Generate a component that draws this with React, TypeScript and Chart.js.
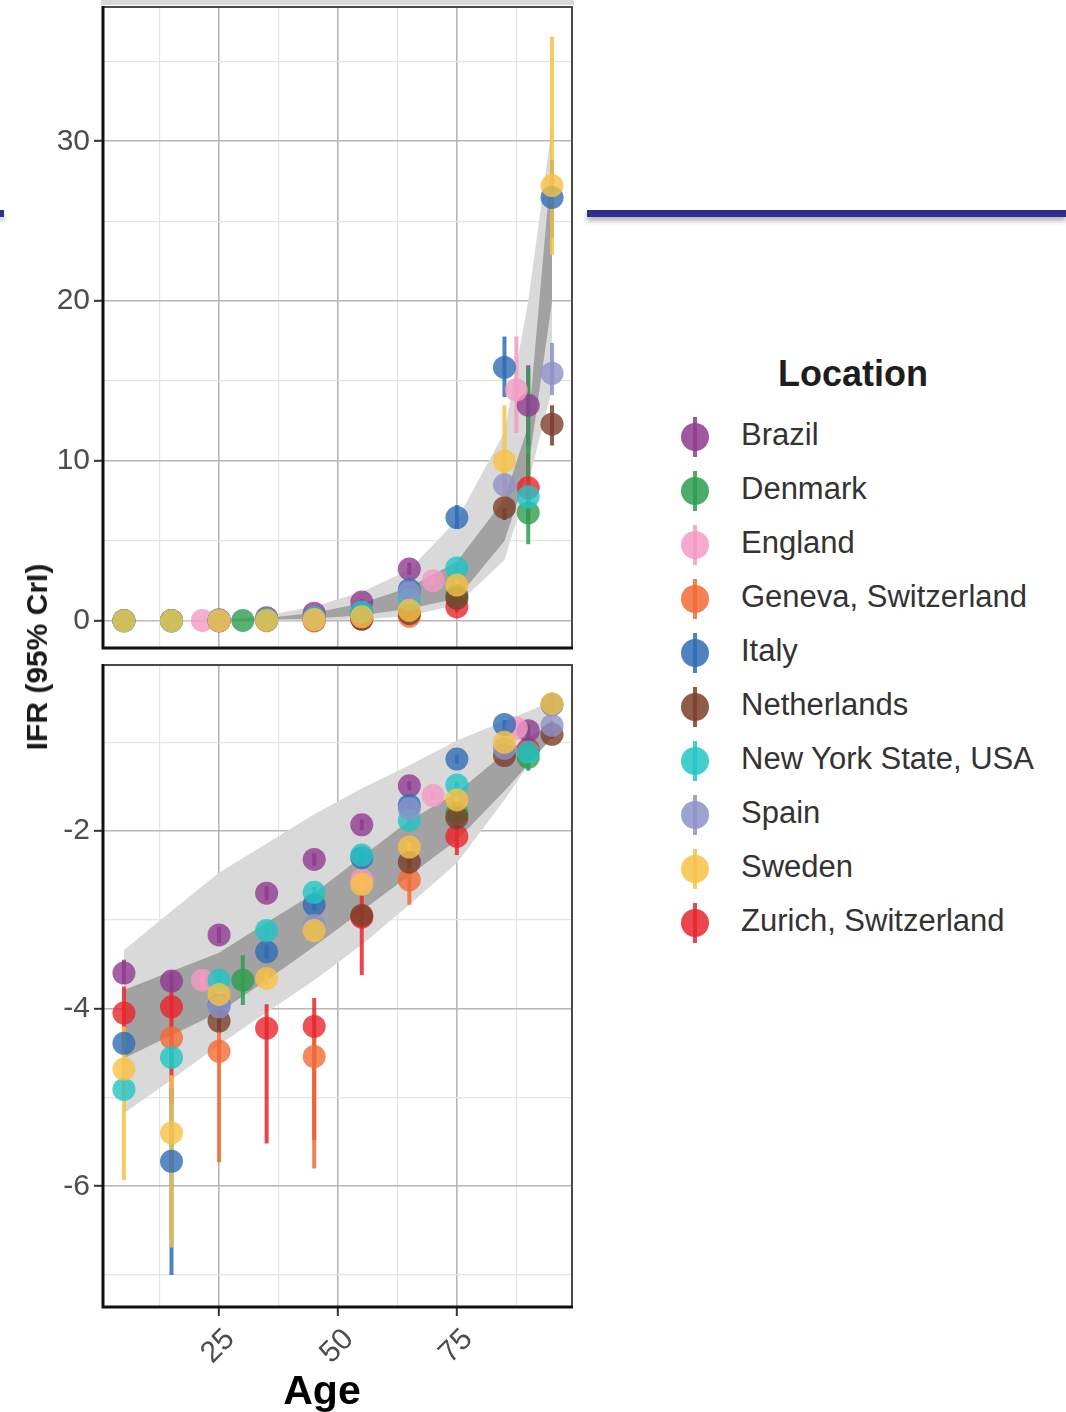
import React, { useEffect, useRef } from 'react';
import { Chart, registerables } from 'chart.js';

Chart.register(...registerables);

const FONT = '"Liberation Sans", Arial, Helvetica, sans-serif';

// ---- axes -------------------------------------------------------------
const AGE_MIN = 0.6;
const AGE_MAX = 99.2;
const AGE_GRID = [12.5, 25, 37.5, 50, 62.5, 75, 87.5];
const AGE_LABELS = [25, 50, 75];

const IFR_MIN = -1.7;
const IFR_MAX = 38.4;
const IFR_GRID = [0, 5, 10, 15, 20, 25, 30, 35];
const IFR_LABELS = [0, 10, 20, 30];

const LOG_MIN = -7.36;
const LOG_MAX = -0.13;
const LOG_GRID = [-7, -6, -5, -4, -3, -2, -1];
const LOG_LABELS = [-6, -4, -2];

// ---- locations --------------------------------------------------------
const LOCATIONS = [
  'Brazil',
  'Denmark',
  'England',
  'Geneva, Switzerland',
  'Italy',
  'Netherlands',
  'New York State, USA',
  'Spain',
  'Sweden',
  'Zurich, Switzerland',
];
const LOCATION_COLORS = [
  '#8E3B8E',
  '#2E9E4F',
  '#F49AC4',
  '#F26A35',
  '#2F6DB5',
  '#7B3F2A',
  '#23C4C4',
  '#8D92C8',
  '#F7C245',
  '#E8262B',
];

// Estimates per age group: [age, log10 IFR, lower 95% CrI, upper 95% CrI]
const brazil = [
  [5, -3.6, -3.72, -3.45],
  [15, -3.69, -3.8, -3.58],
  [25, -3.17, -3.26, -3.08],
  [35, -2.7, -2.78, -2.62],
  [45, -2.32, -2.39, -2.25],
  [55, -1.93, -1.99, -1.87],
  [65, -1.49, -1.54, -1.44],
  [90, -0.87, -0.96, -0.796],
];
const denmark = [
  [30, -3.68, -3.96, -3.4],
  [75, -1.8, -1.86, -1.74],
  [90, -1.17, -1.32, -0.8],
];
const england = [
  [21.5, -3.68, -3.78, -3.58],
  [55, -2.55, -2.62, -2.48],
  [70, -1.6, -1.65, -1.55],
  [87.5, -0.84, -0.93, -0.75],
];
const geneva = [
  [15, -4.33, -4.45, -4.22],
  [25, -4.48, -5.73, -4.25],
  [45, -4.54, -5.8, -4.3],
  [65, -2.55, -2.83, -2.4],
];
const italy = [
  [5, -4.39, -4.5, -4.28],
  [15, -5.72, -7.0, -4.9],
  [25, -3.96, -4.05, -3.87],
  [35, -3.36, -3.44, -3.28],
  [45, -2.83, -2.9, -2.76],
  [55, -2.3, -2.36, -2.24],
  [65, -1.71, -1.76, -1.66],
  [75, -1.19, -1.24, -1.14],
  [85, -0.8, -0.854, -0.75],
  [95, -0.577, -0.62, -0.54],
];
const netherlands = [
  [25, -4.14, -4.25, -4.03],
  [55, -2.95, -3.05, -2.85],
  [65, -2.35, -2.42, -2.28],
  [75, -1.85, -1.9, -1.8],
  [85, -1.15, -1.2, -1.1],
  [95, -0.91, -0.96, -0.87],
];
const newYork = [
  [5, -4.91, -5.0, -4.82],
  [15, -4.55, -4.65, -4.45],
  [25, -3.68, -3.76, -3.6],
  [35, -3.12, -3.19, -3.05],
  [45, -2.69, -2.75, -2.63],
  [55, -2.27, -2.32, -2.22],
  [65, -1.88, -1.92, -1.84],
  [75, -1.48, -1.52, -1.44],
  [90, -1.11, -1.16, -1.06],
];
const spain = [
  [25, -3.98, -4.06, -3.9],
  [45, -3.06, -3.12, -3.0],
  [65, -1.75, -1.8, -1.7],
  [85, -1.07, -1.12, -1.02],
  [95, -0.81, -0.85, -0.76],
];
const sweden = [
  [5, -4.68, -5.93, -4.2],
  [15, -5.4, -6.69, -4.75],
  [25, -3.84, -3.92, -3.76],
  [35, -3.66, -3.74, -3.58],
  [45, -3.12, -3.18, -3.06],
  [55, -2.6, -2.66, -2.54],
  [65, -2.18, -2.24, -2.12],
  [75, -1.65, -1.7, -1.6],
  [85, -1.0, -1.15, -0.87],
  [95, -0.565, -0.64, -0.437],
];
const zurich = [
  [5, -4.05, -4.5, -3.75],
  [15, -3.98, -5.08, -3.75],
  [35, -4.22, -5.52, -3.95],
  [45, -4.2, -5.48, -3.88],
  [55, -2.97, -3.62, -2.72],
  [75, -2.06, -2.27, -1.92],
  [90, -1.08, -1.2, -0.98],
];

const SERIES = [brazil, denmark, england, geneva, italy, netherlands, newYork, spain, sweden, zurich];
// layering of the marks (first is drawn at the bottom)
const DRAW_ORDER = [9, 0, 1, 2, 3, 4, 5, 6, 7, 8];

// ---- model bands ------------------------------------------------------
// IFR (%) panel
const TOP_BAND_AGES = [5, 15, 25, 35, 45, 55, 65, 75, 85, 90, 95];
const TOP_LIGHT_HI = [0.01, 0.03, 0.1, 0.35, 0.9, 1.8, 3.2, 6.3, 11.8, 20.0, 31.0];
const TOP_LIGHT_LO = [0, 0, 0, 0.01, 0.03, 0.08, 0.3, 1.0, 3.8, 8.6, 14.5];
const TOP_DARK_HI = [0, 0.01, 0.04, 0.18, 0.5, 1.1, 2.1, 3.7, 7.6, 12.2, 29.0];
const TOP_DARK_LO = [0, 0, 0.02, 0.06, 0.15, 0.35, 0.75, 1.4, 5.0, 9.5, 20.0];
// log10 IFR panel
const LOG_BAND_AGES = [5, 15, 25, 35, 45, 55, 65, 75, 85, 95];
const LOG_LIGHT_HI = [-3.34, -2.9, -2.47, -2.14, -1.81, -1.52, -1.26, -0.98, -0.76, -0.54];
const LOG_LIGHT_LO = [-5.18, -4.8, -4.41, -4.04, -3.68, -3.28, -2.83, -2.36, -1.65, -0.86];
const LOG_DARK_HI = [-3.79, -3.58, -3.37, -3.03, -2.7, -2.29, -1.88, -1.57, -1.12, -0.78];
const LOG_DARK_LO = [-4.56, -4.3, -4.04, -3.68, -3.3, -2.9, -2.5, -2.1, -1.55, -0.95];

// ---- styling ----------------------------------------------------------
const RIBBON_LIGHT = '#d9d9d9';
const RIBBON_DARK = '#a2a2a2';
const GRID_MAJOR = '#b6b6b6';
const GRID_MINOR = '#e4e4e4';
const TICK_TEXT = '#4d4d4d';

const PANEL_W = 580;
const TOP_H = 650;
const BOTTOM_TOP = 650;
const BOTTOM_H = 762;

function rgba(hex: string, a: number) {
  const n = parseInt(hex.slice(1), 16);
  return `rgba(${(n >> 16) & 255},${(n >> 8) & 255},${n & 255},${a})`;
}

type Panel = 'top' | 'bottom';

const panelFrame = {
  id: 'panelFrame',
  afterDatasetsDraw(chart: any, _args: any, opts: any) {
    const { ctx, chartArea } = chart;
    const { left, right, top, bottom } = chartArea;
    ctx.save();
    if (opts.strip) {
      ctx.fillStyle = '#d9d9d9';
      ctx.fillRect(left - 2, 0, right - left + 4, top - 2);
    }
    ctx.strokeStyle = '#4a4a4a';
    ctx.lineWidth = 2;
    ctx.beginPath();
    ctx.moveTo(left, top);
    ctx.lineTo(right, top);
    ctx.lineTo(right, bottom);
    ctx.stroke();
    ctx.strokeStyle = '#111111';
    ctx.lineWidth = 3;
    ctx.beginPath();
    ctx.moveTo(left, top - 1);
    ctx.lineTo(left, bottom);
    ctx.lineTo(right + 1, bottom);
    ctx.stroke();
    ctx.restore();
  },
};

function gridOptions(isMajor: (v: number) => boolean, drawTicks: boolean) {
  const major = (c: any) => c.tick && isMajor(c.tick.value);
  return {
    color: (c: any) => (major(c) ? GRID_MAJOR : GRID_MINOR),
    lineWidth: (c: any) => (major(c) ? 1.6 : 1.2),
    drawTicks,
    tickLength: 9,
    tickWidth: 2,
    tickColor: (c: any) => (major(c) ? '#333333' : 'rgba(0,0,0,0)'),
  };
}

function buildDatasets(panel: Panel) {
  const value = panel === 'top' ? (v: number) => 100 * Math.pow(10, v) : (v: number) => v;
  const bandAges = panel === 'top' ? TOP_BAND_AGES : LOG_BAND_AGES;
  const bands: [number[], number[], string][] =
    panel === 'top'
      ? [
          [TOP_LIGHT_HI, TOP_LIGHT_LO, RIBBON_LIGHT],
          [TOP_DARK_HI, TOP_DARK_LO, RIBBON_DARK],
        ]
      : [
          [LOG_LIGHT_HI, LOG_LIGHT_LO, RIBBON_LIGHT],
          [LOG_DARK_HI, LOG_DARK_LO, RIBBON_DARK],
        ];
  const datasets: any[] = [];
  let order = 1000;
  for (const [hi, lo, color] of bands) {
    datasets.push({
      type: 'line',
      data: bandAges.map((a, i) => ({ x: a, y: hi[i] })),
      borderWidth: 0,
      pointRadius: 0,
      tension: 0,
      fill: '+1',
      backgroundColor: color,
      order: order--,
    });
    datasets.push({
      type: 'line',
      data: bandAges.map((a, i) => ({ x: a, y: lo[i] })),
      borderWidth: 0,
      pointRadius: 0,
      tension: 0,
      fill: false,
      order: order--,
    });
  }
  // credible intervals
  for (const k of DRAW_ORDER) {
    datasets.push({
      type: 'line',
      data: SERIES[k].flatMap(([a, , lo, hi]) => [
        { x: a, y: value(lo) },
        { x: a, y: value(hi) },
        { x: a, y: null },
      ]),
      borderColor: rgba(LOCATION_COLORS[k], 0.85),
      borderWidth: 4,
      borderCapStyle: 'butt',
      pointRadius: 0,
      spanGaps: false,
      fill: false,
      order: order--,
    });
  }
  // point estimates
  for (const k of DRAW_ORDER) {
    datasets.push({
      type: 'scatter',
      label: LOCATIONS[k],
      data: SERIES[k].map(([a, m]) => ({ x: a, y: value(m) })),
      backgroundColor: rgba(LOCATION_COLORS[k], 0.8),
      borderColor: 'rgba(0,0,0,0)',
      borderWidth: 0,
      pointRadius: 11.5,
      order: order--,
    });
  }
  return datasets;
}

function buildConfig(panel: Panel): any {
  const isTop = panel === 'top';
  const tickFont = { family: FONT, size: 30 };
  const xAxis: any = {
    type: 'linear',
    min: AGE_MIN,
    max: AGE_MAX,
    afterBuildTicks: (s: any) => {
      s.ticks = AGE_GRID.map((v) => ({ value: v }));
    },
    grid: gridOptions((v) => v % 25 === 0, !isTop),
    border: { display: false },
    ticks: isTop
      ? { display: false }
      : {
          display: true,
          autoSkip: false,
          minRotation: 45,
          maxRotation: 45,
          padding: 6,
          labelOffset: 11,
          color: TICK_TEXT,
          font: tickFont,
          callback: (v: number) => (AGE_LABELS.includes(v) ? String(v) : ''),
        },
    afterFit: (s: any) => {
      s.height = isTop ? 2 : 105;
      s.paddingLeft = 0;
      s.paddingRight = 0;
    },
  };
  const grid = isTop ? IFR_GRID : LOG_GRID;
  const labels = isTop ? IFR_LABELS : LOG_LABELS;
  const yAxis: any = {
    type: 'linear',
    min: isTop ? IFR_MIN : LOG_MIN,
    max: isTop ? IFR_MAX : LOG_MAX,
    afterBuildTicks: (s: any) => {
      s.ticks = grid.map((v) => ({ value: v }));
    },
    grid: gridOptions((v) => labels.includes(v) || (isTop && v % 10 === 0), true),
    border: { display: false },
    ticks: {
      color: TICK_TEXT,
      font: tickFont,
      padding: 4,
      callback: (v: number) => (labels.includes(v) ? String(v) : ''),
    },
    afterFit: (s: any) => {
      s.width = 103;
      s.paddingTop = 0;
      s.paddingBottom = 0;
    },
  };
  return {
    type: 'scatter',
    data: { datasets: buildDatasets(panel) },
    options: {
      responsive: false,
      animation: false,
      devicePixelRatio: 1,
      events: [],
      layout: {
        autoPadding: false,
        padding: { top: isTop ? 7 : 15, right: 8, bottom: 0, left: 0 },
      },
      plugins: {
        legend: { display: false },
        tooltip: { enabled: false },
        panelFrame: { strip: isTop },
      },
      scales: { x: xAxis, y: yAxis },
    },
    plugins: [panelFrame],
  };
}

function PanelChart({ panel, top, height }: { panel: Panel; top: number; height: number }) {
  const ref = useRef<HTMLCanvasElement>(null);
  useEffect(() => {
    const chart = new Chart(ref.current as HTMLCanvasElement, buildConfig(panel));
    return () => chart.destroy();
  }, [panel]);
  return (
    <canvas
      ref={ref}
      width={PANEL_W}
      height={height}
      style={{ position: 'absolute', left: 0, top, width: PANEL_W, height }}
    />
  );
}

function LegendKey({ color, cy }: { color: string; cy: number }) {
  const c = rgba(color, 0.85);
  return (
    <div style={{ position: 'absolute', left: 680, top: cy - 22, width: 30, height: 44 }}>
      <div style={{ position: 'absolute', left: 13, top: 2, width: 4, height: 40, background: c }} />
      <div
        style={{
          position: 'absolute',
          left: 1,
          top: 8,
          width: 28,
          height: 28,
          borderRadius: '50%',
          background: c,
        }}
      />
    </div>
  );
}

export default function App() {
  return (
    <div
      style={{
        position: 'absolute',
        left: 0,
        top: 0,
        width: 1066,
        height: 1412,
        overflow: 'hidden',
        background: '#ffffff',
        fontFamily: FONT,
      }}
    >
      <PanelChart panel="top" top={0} height={TOP_H} />
      <PanelChart panel="bottom" top={BOTTOM_TOP} height={BOTTOM_H} />

      {/* slide rule */}
      <div style={{ position: 'absolute', left: 0, top: 210, width: 4, height: 7, background: '#2E2E8C', boxShadow: '0 4px 5px rgba(0,0,0,0.3)' }} />
      <div style={{ position: 'absolute', left: 587, top: 210, width: 479, height: 7, background: '#2E2E8C', boxShadow: '0 4px 5px rgba(0,0,0,0.3)' }} />

      <div
        style={{
          position: 'absolute',
          left: 37,
          top: 657,
          transform: 'translate(-50%, -50%) rotate(-90deg)',
          font: `bold 30px ${FONT}`,
          lineHeight: '34px',
          whiteSpace: 'nowrap',
          color: '#1a1a1a',
        }}
      >
        IFR (95% CrI)
      </div>
      <div
        style={{
          position: 'absolute',
          left: 322,
          top: 1390,
          transform: 'translate(-50%, -50%)',
          font: `bold 41px ${FONT}`,
          lineHeight: '48px',
          whiteSpace: 'nowrap',
          color: '#000000',
        }}
      >
        Age
      </div>

      {/* legend */}
      <div
        style={{
          position: 'absolute',
          left: 653,
          top: 352,
          width: 400,
          textAlign: 'center',
          font: `bold 36px ${FONT}`,
          lineHeight: '44px',
          color: '#1e1e1e',
        }}
      >
        Location
      </div>
      {LOCATIONS.map((name, i) => {
        const cy = 437 + 54 * i;
        return (
          <React.Fragment key={name}>
            <LegendKey color={LOCATION_COLORS[i]} cy={cy} />
            <div
              style={{
                position: 'absolute',
                left: 741,
                top: cy - 20,
                height: 40,
                lineHeight: '40px',
                font: `31px ${FONT}`,
                color: '#333333',
                whiteSpace: 'nowrap',
              }}
            >
              {name}
            </div>
          </React.Fragment>
        );
      })}
    </div>
  );
}
